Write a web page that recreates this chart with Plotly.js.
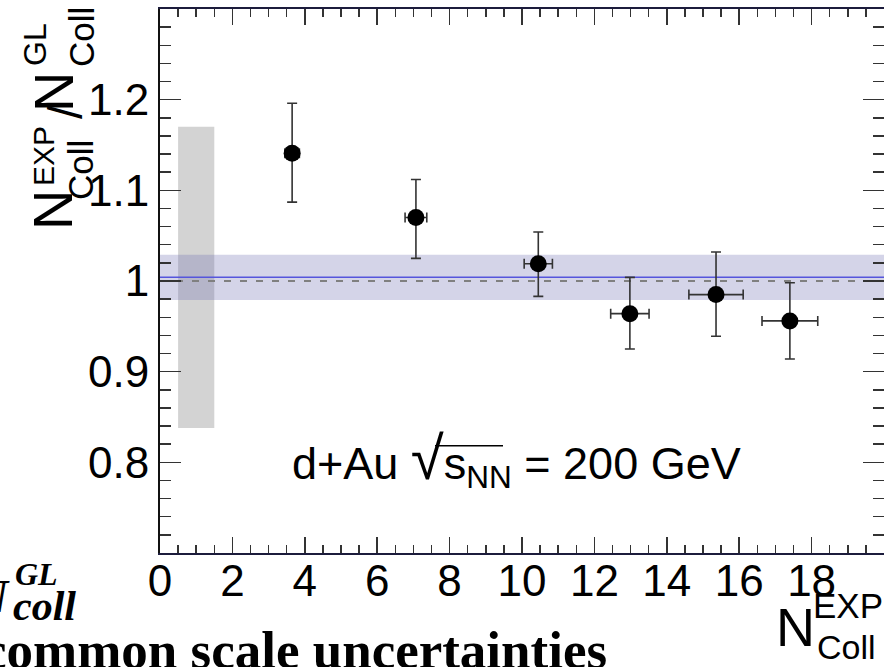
<!DOCTYPE html>
<html><head><meta charset="utf-8">
<script src="https://cdn.plot.ly/plotly-3.0.1.min.js"></script>
<style>html,body{margin:0;padding:0;overflow:hidden;background:#fff}</style>
</head><body><div id="chart" style="width:884px;height:667px"></div>
<script>
// ---- data ----
const nCollExp     = [3.65, 7.07, 10.45, 12.98, 15.36, 17.40];
const ratio        = [1.141, 1.070, 1.019, 0.964, 0.985, 0.956];
const ratioErrUp   = [0.055, 0.042, 0.035, 0.040, 0.047, 0.042];
const ratioErrDown = [0.054, 0.045, 0.036, 0.039, 0.046, 0.042];
const nCollErr     = [0.20, 0.30, 0.39, 0.53, 0.75, 0.77];
const fitValue     = 1.004;
const fitBand      = [0.979, 1.029];
const referenceLine = 1.0;
const scaleBoxX    = [0.5, 1.5];
const scaleBoxY    = [0.838, 1.170];
const xRange       = [0, 20];
const yRange       = [0.7, 1.3];
const xTickVals    = [0, 2, 4, 6, 8, 10, 12, 14, 16, 18];
const xTickText    = ['0', '2', '4', '6', '8', '10', '12', '14', '16', '18'];
const yTickVals    = [0.8, 0.9, 1.0, 1.1, 1.2];
const yTickText    = ['0.8', '0.9', '1', '1.1', '1.2'];

const SANS = '"Liberation Sans", Arial, Helvetica, sans-serif';
const SERIF = '"Liberation Serif", "Times New Roman", serif';

// pixel -> paper helper for layout text placement
const W = 884, H = 667;
const ML = 160, PW = 724, MT = 9, PH = 544.3;
const px = x => (x - ML) / PW;
const py = y => (MT + PH - y) / PH;

const traces = [
  { // common scale uncertainty box
    x: [scaleBoxX[0], scaleBoxX[1], scaleBoxX[1], scaleBoxX[0], scaleBoxX[0]],
    y: [scaleBoxY[0], scaleBoxY[0], scaleBoxY[1], scaleBoxY[1], scaleBoxY[0]],
    mode: 'lines', fill: 'toself', fillcolor: 'rgb(211,211,211)',
    line: {width: 0}, hoverinfo: 'skip'
  },
  { // fit band
    x: [xRange[0], xRange[1], xRange[1], xRange[0], xRange[0]],
    y: [fitBand[0], fitBand[0], fitBand[1], fitBand[1], fitBand[0]],
    mode: 'lines', fill: 'toself', fillcolor: 'rgba(112,112,178,0.3)',
    line: {width: 0}, hoverinfo: 'skip'
  },
  { // reference line at unity
    x: xRange, y: [referenceLine, referenceLine], mode: 'lines',
    line: {color: 'rgb(128,128,128)', width: 2, dash: '7px,9px'}, hoverinfo: 'skip'
  },
  { // fit value
    x: xRange, y: [fitValue, fitValue], mode: 'lines',
    line: {color: 'rgb(85,85,220)', width: 1.5}, hoverinfo: 'skip'
  },
  { // data points
    x: nCollExp, y: ratio, mode: 'markers',
    marker: {color: '#000', size: 17},
    error_y: {type: 'data', symmetric: false, array: ratioErrUp, arrayminus: ratioErrDown,
              color: '#333', thickness: 1.6, width: 5},
    error_x: {type: 'data', array: nCollErr, color: '#333', thickness: 1.6, width: 5}
  }
];

function ann(text, x, y, size, opts) {
  return Object.assign({
    text: text, xref: 'paper', yref: 'paper', x: px(x), y: py(y),
    xanchor: 'center', yanchor: 'middle', showarrow: false,
    font: {family: SANS, size: size, color: '#000'}
  }, opts || {});
}

const annotations = [
  // in-plot label
  {text: 'd+Au <span style="font-size:60px">√</span>s<sub>NN</sub> = 200 GeV',
   xref: 'x', yref: 'y', x: 9.85, y: 0.803, showarrow: false,
   xanchor: 'center', yanchor: 'middle',
   font: {family: SANS, size: 45, color: '#000'}},
  // y-axis title (ROOT style stacked sup/sub)
  ann('N', 53, 210, 56, {textangle: -90}),
  ann('EXP', 44, 156, 30, {textangle: -90}),
  ann('Coll', 81, 170, 35, {textangle: -90}),
  ann('/', 66, 112, 48, {textangle: -90}),
  ann('N', 54, 92, 56, {textangle: -90}),
  ann('GL', 35, 45, 32, {textangle: -90}),
  ann('Coll', 82, 37, 35, {textangle: -90}),
  // x-axis title
  ann('N', 795, 627, 54),
  ann('EXP', 848, 606, 35),
  ann('Coll', 846, 647, 34),
  // slide text overlapping the figure
  ann('<b><i>N</i></b>', 12, 597, 46, {xanchor: 'right', font: {family: SERIF, size: 46, color: '#000'}}),
  ann('<b><i>GL</i></b>', 13, 574, 32, {xanchor: 'left', font: {family: SERIF, size: 32, color: '#000'}}),
  ann('<b><i>coll</i></b>', 11, 606, 42, {xanchor: 'left', font: {family: SERIF, size: 42, color: '#000'}}),
  ann('<b>common scale uncertainties</b>', 609, 650, 53, {xanchor: 'right', font: {family: SERIF, size: 53, color: '#000'}})
];

const shapes = [
  // vinculum of the square root in the in-plot label
  {type: 'line', xref: 'paper', yref: 'paper', x0: px(435), x1: px(503), y0: py(446), y1: py(446),
   line: {color: '#000', width: 1.5}}
];

const layout = {
  width: W, height: H,
  margin: {l: ML, r: W - ML - PW, t: MT, b: H - MT - PH},
  paper_bgcolor: '#fff', plot_bgcolor: '#fff',
  showlegend: false,
  xaxis: {
    range: xRange, tickmode: 'array', tickvals: xTickVals, ticktext: xTickText,
    ticks: 'inside', ticklen: 16, tickwidth: 1.5, tickcolor: '#333',
    showline: true, linecolor: '#1c1c3c', linewidth: 2, mirror: 'allticks',
    showgrid: false, zeroline: false, ticklabelstandoff: -12,
    tickfont: {family: SANS, size: 44, color: '#000'},
    minor: {tickmode: 'linear', tick0: 0, dtick: 0.5, ticks: 'inside', ticklen: 8, tickwidth: 1.5, tickcolor: '#333', showgrid: false}
  },
  yaxis: {
    range: yRange, tickmode: 'array', tickvals: yTickVals, ticktext: yTickText,
    ticks: 'inside', ticklen: 21, tickwidth: 1.5, tickcolor: '#333',
    showline: true, linecolor: '#111', linewidth: 2, mirror: 'allticks',
    showgrid: false, zeroline: false,
    tickfont: {family: SANS, size: 44, color: '#000'},
    minor: {tickmode: 'linear', tick0: 0.7, dtick: 0.02, ticks: 'inside', ticklen: 11, tickwidth: 1.5, tickcolor: '#333', showgrid: false}
  },
  annotations: annotations,
  shapes: shapes
};

Plotly.newPlot('chart', traces, layout, {staticPlot: true, displayModeBar: false});
</script>
</body></html>
